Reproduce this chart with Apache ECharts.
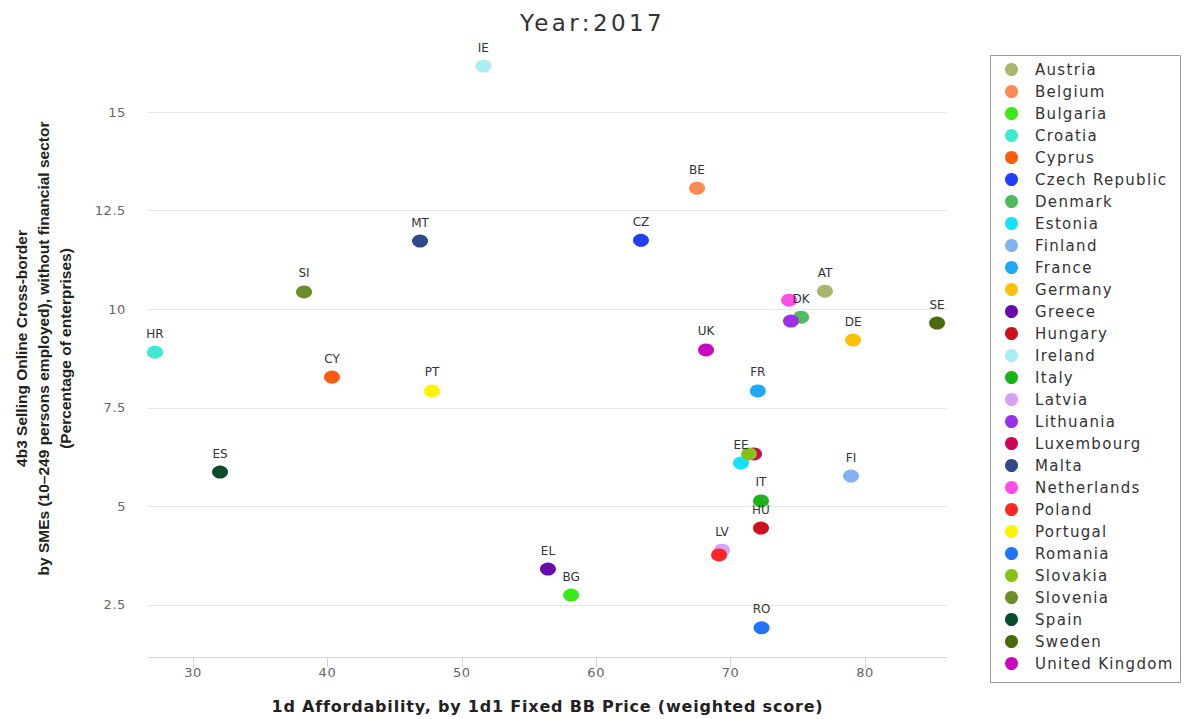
<!DOCTYPE html>
<html><head><meta charset="utf-8">
<script src="https://cdn.jsdelivr.net/npm/echarts@6/dist/echarts.min.js"></script>
<style>
html,body{margin:0;padding:0;background:#fff}
#c{width:1185px;height:719px}
#c svg text[style*="23px"]{letter-spacing:3.4px}
#c svg text[style*="16px"]{letter-spacing:0.8px}
#c svg text[style*="15px"]{letter-spacing:1.3px}
#c svg text[style*="13px"]{letter-spacing:0.6px}
</style>
</head><body><div id="c"></div>
<script>
const countries = ['Austria','Belgium','Bulgaria','Croatia','Cyprus','Czech Republic','Denmark','Estonia','Finland','France','Germany','Greece','Hungary','Ireland','Italy','Latvia','Lithuania','Luxembourg','Malta','Netherlands','Poland','Portugal','Romania','Slovakia','Slovenia','Spain','Sweden','United Kingdom'];
const codes = ['AT','BE','BG','HR','CY','CZ','DK','EE','FI','FR','DE','EL','HU','IE','IT','LV','LT','LU','MT','NL','PL','PT','RO','SK','SI','ES','SE','UK'];
const xValues = [77.02,67.50,58.13,27.17,40.34,63.33,75.24,70.77,78.96,72.02,79.11,56.41,72.26,51.60,72.26,69.36,74.49,71.74,46.89,74.35,69.14,47.78,72.30,71.37,38.26,32.01,85.36,68.17];
const yValues = [10.46,13.07,2.75,8.91,8.28,11.75,9.80,6.10,5.77,7.93,9.22,3.41,4.45,16.17,5.14,3.89,9.70,6.33,11.73,10.23,3.77,7.93,1.92,6.33,10.44,5.87,9.65,8.97];
const colors = ['#a9b76b','#fd8a50','#3aea17','#3ee8d2','#ff5b0f','#1f40f5','#4fbb5c','#16e0ff','#82b2ef','#1ea8f8','#ffc107','#690aac','#cf101c','#aaedf3','#1bb31b','#d6a0fa','#9b30e6','#cc0855','#2f4a8b','#ff4de8','#ff2626','#fff200','#1f74fc','#86c11b','#6b8e29','#0b4a2b','#496b0d','#c909bd'];
const hiddenLabels = ['NL','LT','LU','SK','PL'];
const xTicks = [30,40,50,60,70,80];
const yTicks = [2.5,5,7.5,10,12.5,15];
const titleText = 'Year:2017';
const xTitle = '1d Affordability, by 1d1 Fixed BB Price (weighted score)';
const yTitle = '4b3 Selling Online Cross-border\nby SMEs (10\u2013249 persons employed), without financial sector\n(Percentage of enterprises)';

const series = countries.map((name, i) => ({
  name: name,
  type: 'scatter',
  symbol: 'circle',
  symbolSize: [16, 13],
  itemStyle: { color: colors[i], opacity: 1 },
  label: {
    show: hiddenLabels.indexOf(codes[i]) < 0,
    position: 'top',
    distance: 6,
    formatter: codes[i],
    color: '#333',
    fontSize: 12,
    fontFamily: 'DejaVu Sans'
  },
  emphasis: { disabled: true },
  data: [[xValues[i], yValues[i]]]
}));

const chart = echarts.init(document.getElementById('c'), null, { renderer: 'svg' });
chart.setOption({
  animation: false,
  backgroundColor: '#fff',
  title: {
    text: titleText, left: 'center', top: 6,
    textStyle: { fontFamily: 'DejaVu Sans', fontSize: 23, fontWeight: 'normal', color: '#333' }
  },
  grid: { left: 148, right: 238, top: 40, bottom: 62 },
  xAxis: {
    type: 'value', min: 26.65, max: 86.1,
    name: xTitle, nameLocation: 'middle', nameGap: 41,
    nameTextStyle: { fontFamily: 'DejaVu Sans', fontWeight: 'bold', fontSize: 16, color: '#222' },
    axisLine: { show: true, lineStyle: { color: '#ccd6eb', width: 1 } },
    axisTick: { show: true, length: 10, lineStyle: { color: '#ccd6eb' }, customValues: xTicks },
    axisLabel: { customValues: xTicks, margin: 9, color: '#666', fontSize: 13, fontFamily: 'DejaVu Sans' },
    splitLine: { show: false }
  },
  yAxis: {
    type: 'value', min: 1.18, max: 16.83,
    name: yTitle, nameLocation: 'middle', nameRotate: 90, nameGap: 72,
    nameTextStyle: { fontFamily: 'Liberation Sans', fontSize: 15.5, fontWeight: 'bold', color: '#222', lineHeight: 22, align: 'center' },
    axisLine: { show: false },
    axisTick: { show: false, customValues: yTicks },
    axisLabel: { customValues: yTicks, margin: 22, color: '#666', fontSize: 13, fontFamily: 'DejaVu Sans' },
    splitLine: { show: true, lineStyle: { color: '#e6e6e6', width: 1 } }
  },
  legend: {
    orient: 'vertical', left: 1005, top: 62, height: 640,
    itemWidth: 17, itemHeight: 13, itemGap: 7,
    icon: 'circle',
    padding: 0,
    textStyle: { fontFamily: 'DejaVu Sans', fontSize: 15, color: '#333', padding: [0, 0, 0, 10] },
    data: countries
  },
  graphic: [{
    type: 'rect', left: 988, top: 53,
    shape: { width: 190, height: 627 },
    style: { fill: 'none', stroke: '#999', lineWidth: 1 },
    silent: true
  }],
  series: series
});
</script>
</body></html>
